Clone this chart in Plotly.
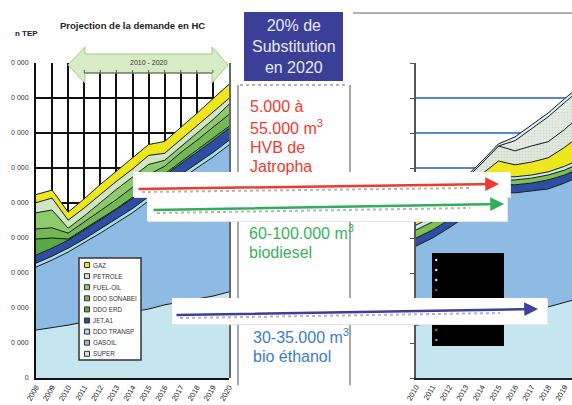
import plotly.graph_objects as go

W, H = 572, 405


def px(x):
    """Horizontal pixel position -> paper fraction."""
    return x / W


def py(y):
    """Vertical pixel position (from top) -> paper fraction."""
    return 1 - y / H


# ---------------------------------------------------------------- data
years = list(range(2008, 2021))

# Demand projection by product (TEP), stacked from the bottom up
super_ = [137000, 143000, 151000, 160000, 171000, 180000, 189000, 197000, 209000, 217000, 226000, 234000, 246000]
gasoil = [180000, 194000, 209000, 226000, 243000, 263000, 283000, 309000, 329000, 351000, 374000, 397000, 420000]
ddo_transp = [11000, 11000, 11000, 11000, 12000, 12000, 12000, 12000, 12000, 13000, 13000, 13000, 13000]
jet_a1 = [23000, 23000, 23000, 26000, 26000, 26000, 29000, 29000, 29000, 31000, 31000, 34000, 34000]
ddo_erd = [46000, 29000, 3000, 3000, 3000, 3000, 3000, 3000, 3000, 6000, 6000, 6000, 6000]
ddo_sonabei = [29000, 29000, 17000, 20000, 23000, 26000, 29000, 31000, 23000, 26000, 29000, 31000, 34000]
fuel_oil = [46000, 51000, 14000, 17000, 23000, 29000, 29000, 29000, 17000, 17000, 20000, 23000, 29000]
petrole = [29000, 34000, 23000, 23000, 23000, 23000, 23000, 26000, 20000, 20000, 20000, 20000, 17000]
gaz = [23000, 23000, 23000, 26000, 29000, 29000, 31000, 31000, 34000, 34000, 37000, 40000, 40000]

# Substitution scenario 2010-2020 (TEP)
years_sub = list(range(2010, 2021))
s_super = [151000, 157000, 163000, 169000, 174000, 180000, 186000, 194000, 203000, 217000, 229000]
s_gasoil = [226000, 243000, 266000, 291000, 323000, 351000, 343000, 340000, 337000, 340000, 349000]
s_jet = [23000, 23000, 23000, 23000, 23000, 23000, 23000, 23000, 26000, 23000, 23000]
s_ddo = [23000, 23000, 23000, 23000, 20000, 11000, 14000, 14000, 14000, 14000, 14000]
s_transp = [14000, 14000, 14000, 11000, 9000, 9000, 9000, 9000, 9000, 11000, 11000]
s_gaz = [17000, 20000, 26000, 31000, 34000, 46000, 34000, 37000, 40000, 54000, 69000]
s_petrole = [6000, 14000, 14000, 20000, 31000, 43000, 40000, 46000, 46000, 51000, 57000]
s_fuel = [0, 0, 0, 0, 0, 0, 29000, 49000, 71000, 77000, 74000]
s_bio = [6000, 6000, 6000, 6000, 6000, 6000, 11000, 11000, 11000, 11000, 11000]

y_ticks = [0, 100000, 200000, 300000, 400000, 500000, 600000, 700000, 800000, 900000]
y_tick_text = ["0", "0 000", "0 000", "0 000", "0 000", "0 000", "0 000", "0 000", "0 000", "0 000"]

legend_names = ["GAZ", "PETROLE", "FUEL-OIL", "DDO SONABEI", "DDO ERD", "JET.A1", "DDO TRANSP", "GASOIL", "SUPER"]

# ---------------------------------------------------------------- styles
FONT = "Liberation Sans, Arial, sans-serif"
colors = {
    "SUPER": "#c6e6ef",
    "GASOIL": "#8dbbe3",
    "DDO TRANSP": "#a6dcea",
    "JET.A1": "#2d4ea3",
    "DDO ERD": "#5aa844",
    "DDO SONABEI": "#72b955",
    "FUEL-OIL": "#8fcb6c",
    "PETROLE": "#cfe7c5",
    "GAZ": "#eee61e",
}

left_layers = [
    ("SUPER", super_), ("GASOIL", gasoil), ("DDO TRANSP", ddo_transp),
    ("JET.A1", jet_a1), ("DDO ERD", ddo_erd), ("DDO SONABEI", ddo_sonabei),
    ("FUEL-OIL", fuel_oil), ("PETROLE", petrole), ("GAZ", gaz),
]

right_layers = [
    ("SUPER", s_super, "#c6e6ef", None),
    ("GASOIL", s_gasoil, "#8dbbe3", None),
    ("JET.A1", s_jet, "#2d4ea3", None),
    ("DDO", s_ddo, "#7cc04f", None),
    ("DDO TRANSP", s_transp, "#c4e5f1", None),
    ("GAZ", s_gaz, "#eee61e", None),
    ("PETROLE", s_petrole, "#dfe8dc", "#b5c2b3"),
    ("FUEL-OIL", s_fuel, "#e4ece2", "#bcc8ba"),
    ("BIOCARBURANTS", s_bio, "#d4ecf5", None),
]

fig = go.Figure()

for name, vals in left_layers:
    fig.add_trace(go.Scatter(
        x=years, y=vals, name=name, stackgroup="hc", mode="lines",
        line=dict(color="#1a1a1a", width=1), fillcolor=colors[name],
        showlegend=False, xaxis="x", yaxis="y", hoverinfo="skip",
    ))

for name, vals, col, dots in right_layers:
    kw = {}
    if dots:
        kw["fillpattern"] = dict(shape=".", fgcolor=dots, bgcolor=col, size=3, solidity=0.25)
    fig.add_trace(go.Scatter(
        x=years_sub, y=vals, name=name, stackgroup="sub", mode="lines",
        line=dict(color="#1a1a1a", width=1), fillcolor=col,
        showlegend=False, xaxis="x2", yaxis="y2", hoverinfo="skip", **kw,
    ))

ydom = [py(378), py(63)]

fig.update_layout(
    width=W, height=H, margin=dict(l=0, r=0, t=0, b=0),
    paper_bgcolor="white", plot_bgcolor="white", showlegend=False,
    font=dict(family=FONT, color="#222"),
    xaxis=dict(
        domain=[px(36), px(229)], range=[2008, 2020], tick0=2008, dtick=1,
        showgrid=True, gridcolor="#111", gridwidth=2, showline=True,
        linecolor="#111", linewidth=2, zeroline=False, tickangle=-60,
        tickfont=dict(size=7.5, color="#222", family=FONT), ticks="",
        anchor="y", automargin=False,
    ),
    yaxis=dict(
        domain=ydom, range=[0, 900000], tickvals=y_ticks, ticktext=y_tick_text,
        showgrid=True, gridcolor="#111", gridwidth=2, showline=True,
        linecolor="#111", linewidth=2, zeroline=False, ticks="",
        ticklabelstandoff=4,
        tickfont=dict(size=7, color="#333", family=FONT), anchor="x", automargin=False,
    ),
    xaxis2=dict(
        domain=[px(416), 1], range=[2010, 2019.45], tick0=2010, dtick=1,
        showgrid=False, showline=True, linecolor="#222", linewidth=1.5,
        zeroline=False, tickangle=-60, ticks="",
        tickfont=dict(size=7.5, color="#222", family=FONT), anchor="y2", automargin=False,
    ),
    yaxis2=dict(
        domain=ydom, range=[0, 900000], tickvals=y_ticks, showticklabels=False,
        showgrid=True, gridcolor="#5b86cf", gridwidth=1.5, showline=True,
        linecolor="#555", linewidth=1.5, zeroline=False, ticks="outside",
        ticklen=4, tickcolor="#555", anchor="x2", automargin=False,
    ),
)

shapes = []
annotations = []


def rect(x0, y0, x1, y1, fill, line="rgba(0,0,0,0)", lw=0):
    shapes.append(dict(type="rect", xref="paper", yref="paper",
                       x0=px(x0), x1=px(x1), y0=py(y1), y1=py(y0),
                       fillcolor=fill, line=dict(color=line, width=lw)))


def seg(x0, y0, x1, y1, color, lw, dash="solid"):
    shapes.append(dict(type="line", xref="paper", yref="paper",
                       x0=px(x0), x1=px(x1), y0=py(y0), y1=py(y1),
                       line=dict(color=color, width=lw, dash=dash)))


def label(x, y, text, size, color="#222", xanchor="left", bold=False, family=FONT):
    annotations.append(dict(xref="paper", yref="paper", x=px(x), y=py(y),
                            text=f"<b>{text}</b>" if bold else text,
                            showarrow=False, xanchor=xanchor, yanchor="middle",
                            font=dict(size=size, color=color, family=family)))


# ---------------- left chart decorations
# double arrow "2010 - 2020"
pts = [(68, 65), (85, 47), (85, 54), (212, 54), (212, 47), (228, 65),
       (212, 83), (212, 73), (85, 73), (85, 83)]
path = "M " + " L ".join(f"{px(x):.5f},{py(y):.5f}" for x, y in pts) + " Z"
shapes.append(dict(type="path", xref="paper", yref="paper", path=path,
                   fillcolor="#d7ebc7", line=dict(color="#9fcb86", width=1)))
# ruler below the period label
seg(84, 73, 212, 73, "#555", 1.2)
for yr in range(2011, 2020):
    shapes.append(dict(type="line", xref="x", yref="paper", x0=yr, x1=yr,
                       y0=py(73), y1=py(70), line=dict(color="#555", width=1)))
label(148, 62, "2010 - 2020", 7, "#333", "center")

# right border of the left chart
seg(230, 63, 230, 378, "#666", 2)

# legend box
rect(79, 258, 141, 360, "white", "#333", 1.5)
for i, name in enumerate(legend_names):
    yc = 265 + i * 11.1
    rect(84.5, yc - 2.5, 89.5, yc + 2.5, colors[name], "#333", 1)
    label(91, yc, name, 6.3, "#333")

label(132, 25, "Projection de la demande en HC", 9.5, "#222", "center", bold=True,
      family="Liberation Sans Narrow, Arial Narrow, Liberation Sans, Arial")
label(13, 33, "n TEP", 8, "#222", bold=True)

# ---------------- middle panel
seg(353, 13, 572, 13, "#b0b0b0", 2)
seg(238, 85, 238, 385, "#8a8a8a", 1.5)
seg(350, 85, 350, 385, "#8a8a8a", 1.5)
seg(240, 85, 348, 85, "#9a9a9a", 1.5, "dot")
rect(244, 12, 343, 81, "#3b3f97")
annotations.append(dict(xref="paper", yref="paper", x=px(293.5), y=py(47),
                        text="20% de<br>Substitution<br>en 2020", showarrow=False,
                        xanchor="center", yanchor="middle", align="center",
                        font=dict(size=16, color="#e8e8f4", family=FONT)))

red, green, blue = "#f2392c", "#36b35a", "#3b7cc8"
for txt, y in [("5.000 à", 107), ("55.000 m<sup>3</sup>", 127), ("HVB de", 147), ("Jatropha", 166)]:
    label(248, y, txt, 16, red)
for txt, y in [("60-100.000 m<sup>3</sup>", 232), ("biodiesel", 252)]:
    label(247, y, txt, 16, green)
for txt, y in [("30-35.000 m<sup>3</sup>", 336), ("bio éthanol", 356)]:
    label(251, y, txt, 16, blue)

# ---------------- right chart legend (dark box)
rect(432, 253, 504, 346, "black")
dot_colors = ["#e8e8e8", "#e8e8e8", "#e8e8e8", "#6d6a10", "#4a6b6b",
              "#3a4f7a", "#3b5c8c", "#4d79a8", "#6aa1bf"]
for i, c in enumerate(dot_colors):
    yc = 260 + i * 10
    shapes.append(dict(type="circle", xref="paper", yref="paper",
                       x0=px(435), x1=px(437.5), y0=py(yc + 1.2), y1=py(yc - 1.2),
                       fillcolor=c, line=dict(width=0)))

# ---------------- arrow boxes
rect(134, 173, 511, 198, "#e6e6e6")
rect(133, 172, 510, 197, "white")
rect(148, 198, 508, 222, "#e6e6e6")
rect(147, 197, 507, 221, "white")
rect(173, 299, 548, 325, "#e6e6e6")
rect(172, 298, 547, 324, "white")

seg(142, 192, 470, 188, "#b5b5b5", 2, "dot")
seg(157, 213, 470, 208, "#b5b5b5", 2, "dot")
seg(180, 318, 500, 313, "#b5b5b5", 2, "dot")


def arrow(x0, y0, x1, y1, color):
    annotations.append(dict(xref="paper", yref="paper", x=px(x1), y=py(y1),
                            ax=x0 - x1, ay=y0 - y1, axref="pixel", ayref="pixel",
                            text="", showarrow=True, arrowhead=2, arrowsize=1.1,
                            arrowwidth=2.5, arrowcolor=color))


arrow(137, 189, 499, 184, "#ec3a2e")
arrow(152, 210, 504, 204, "#2fae5c")
arrow(175, 315, 538, 309, "#3d3f9e")

fig.update_layout(shapes=shapes, annotations=annotations)
fig.write_html("out.html")
